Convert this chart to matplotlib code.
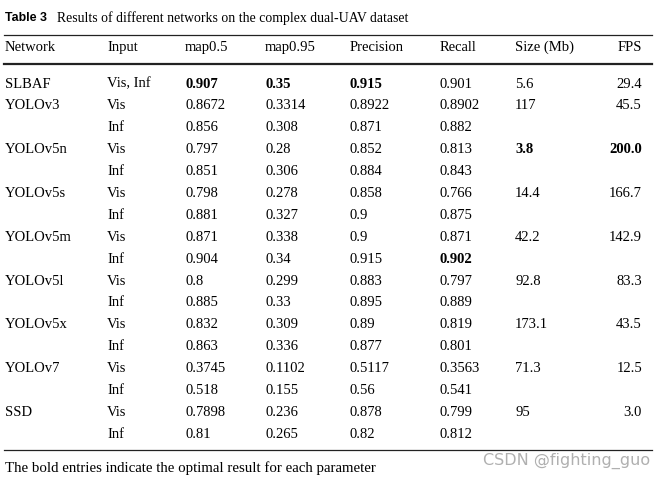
import matplotlib.pyplot as plt

networks = ['SLBAF', 'YOLOv3', '', 'YOLOv5n', '', 'YOLOv5s', '', 'YOLOv5m', '',
            'YOLOv5l', '', 'YOLOv5x', '', 'YOLOv7', '', 'SSD', '']
inputs = ['Vis, Inf'] + ['Vis', 'Inf'] * 8
map05 = ['0.907', '0.8672', '0.856', '0.797', '0.851', '0.798', '0.881', '0.871', '0.904',
         '0.8', '0.885', '0.832', '0.863', '0.3745', '0.518', '0.7898', '0.81']
map095 = ['0.35', '0.3314', '0.308', '0.28', '0.306', '0.278', '0.327', '0.338', '0.34',
          '0.299', '0.33', '0.309', '0.336', '0.1102', '0.155', '0.236', '0.265']
precision = ['0.915', '0.8922', '0.871', '0.852', '0.884', '0.858', '0.9', '0.9', '0.915',
             '0.883', '0.895', '0.89', '0.877', '0.5117', '0.56', '0.878', '0.82']
recall = ['0.901', '0.8902', '0.882', '0.813', '0.843', '0.766', '0.875', '0.871', '0.902',
          '0.797', '0.889', '0.819', '0.801', '0.3563', '0.541', '0.799', '0.812']
size_mb = ['5.6', '117', '', '3.8', '', '14.4', '', '42.2', '', '92.8', '', '173.1', '',
           '71.3', '', '95', '']
fps = ['29.4', '45.5', '', '200.0', '', '166.7', '', '142.9', '', '83.3', '', '43.5', '',
       '12.5', '', '3.0', '']
headers = ['Network', 'Input', 'map0.5', 'map0.95', 'Precision', 'Recall', 'Size (Mb)', 'FPS']

# (column, row) of the bold entries
bold_cells = {(2, 0), (3, 0), (4, 0), (6, 3), (7, 3), (5, 8)}

columns = [networks, inputs, map05, map095, precision, recall, size_mb, fps]
col_x = [5, 107, 185, 265, 350, 440, 515, 642]

serif = 'Liberation Serif'
fs = 10.5

fig = plt.figure(figsize=(6.57, 4.8), dpi=100)
ax = fig.add_axes([0, 0, 1, 1])
ax.set_xlim(0, 657)
ax.set_ylim(480, 0)
ax.axis('off')

ax.text(5, 18, 'Table 3', fontsize=8.9, fontweight='bold', family='Liberation Sans',
        va='center', ha='left')
ax.text(57, 18, 'Results of different networks on the complex dual-UAV dataset',
        fontsize=9.9, family=serif, va='center', ha='left')

ax.plot([4, 652], [34.5, 34.5], color='#222222', lw=0.9)
ax.plot([4, 652], [63.5, 63.5], color='#222222', lw=1.6)
ax.plot([4, 652], [449.5, 449.5], color='#222222', lw=0.9)

for c, h in enumerate(headers):
    ha = 'right' if c == 7 else 'left'
    ax.text(col_x[c], 47.5, h, fontsize=fs, family=serif, va='center', ha=ha)

for c, col in enumerate(columns):
    ha = 'right' if c == 7 else 'left'
    for r, val in enumerate(col):
        if not val:
            continue
        y = 84 + 21.9 * r
        w = 'bold' if (c, r) in bold_cells else 'normal'
        ax.text(col_x[c], y, val, fontsize=fs, family=serif, va='center', ha=ha,
                fontweight=w)

ax.text(5, 468, 'The bold entries indicate the optimal result for each parameter',
        fontsize=10.75, family=serif, va='center', ha='left')
ax.text(650, 461, 'CSDN @fighting_guo', fontsize=11.5, family='DejaVu Sans',
        color='#b0b0b0', va='center', ha='right')

fig.savefig('out.png', dpi=100)
